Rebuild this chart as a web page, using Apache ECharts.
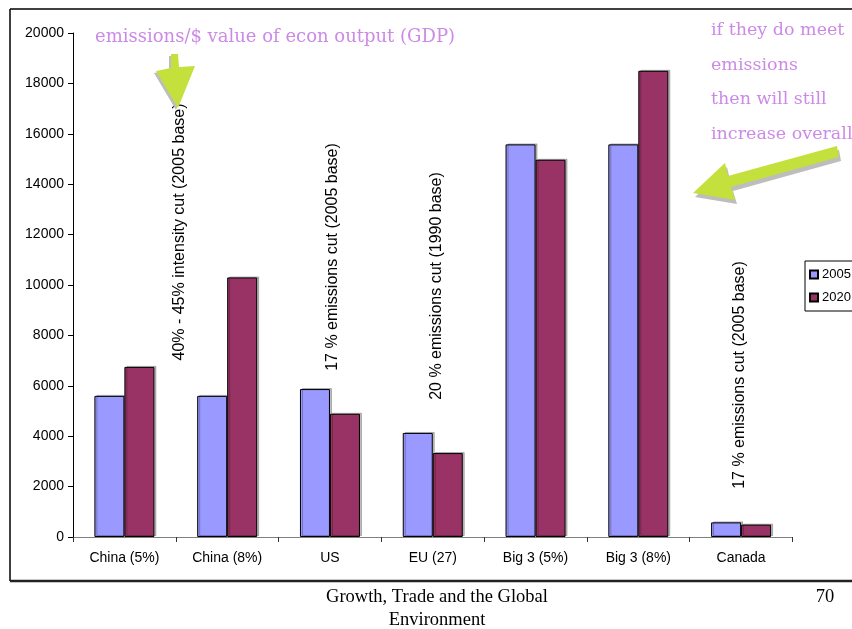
<!DOCTYPE html>
<html>
<head>
<meta charset="utf-8">
<script src="https://cdn.jsdelivr.net/npm/echarts@6/dist/echarts.min.js"></script>
<style>
  html, body { margin: 0; padding: 0; background: #fff; }
  #main { width: 852px; height: 629px; }
</style>
</head>
<body>
<div id="main"></div>
<script>
// data
var categories = ['China (5%)', 'China (8%)', 'US', 'EU (27)', 'Big 3 (5%)', 'Big 3 (8%)', 'Canada'];
var values2005 = [5600, 5600, 5870, 4130, 15580, 15580, 580];
var values2020 = [6750, 10300, 4890, 3330, 14970, 18500, 490];
var seriesNames = ['2005', '2020'];

var purple = '#CC8AE6';
var green = '#C3E03C';
var sans = 'Liberation Sans, Arial, sans-serif';
var serif = 'DejaVu Serif, serif';

var chart = echarts.init(document.getElementById('main'));

function vlabel(text, x, y) {
  return {
    type: 'text', x: x, y: y, rotation: Math.PI / 2,
    style: { text: text, font: '16px ' + sans, fill: '#000', align: 'center', verticalAlign: 'middle' }
  };
}

var arrow1 = [[171, 54], [178, 54], [179, 67], [195, 66], [178, 108], [156, 71], [171, 68]];
var arrow2 = [[693, 193], [725, 163], [728, 176], [837, 146], [839, 157], [731, 187], [735, 200]];
function shift(pts, dx, dy) { return pts.map(function (p) { return [p[0] + dx, p[1] + dy]; }); }

var barStyle = function (c) {
  return { color: c, borderColor: '#000', borderWidth: 1, shadowColor: 'rgba(0,0,0,0.25)', shadowOffsetX: 2, shadowOffsetY: -1, shadowBlur: 0 };
};

var option = {
  animation: false,
  grid: { left: 73, top: 33, right: 59.5, bottom: 92, containLabel: false },
  legend: {
    orient: 'vertical', left: 805, top: 261,
    itemWidth: 8, itemHeight: 8, itemGap: 10,
    padding: [7, 6, 7, 4],
    borderColor: '#000', borderWidth: 1, backgroundColor: '#fff',
    icon: 'rect',
    textStyle: { fontFamily: sans, fontSize: 13, color: '#000', padding: [0, 0, 0, -1] },
    data: seriesNames
  },
  xAxis: {
    type: 'category', data: categories,
    axisLine: { lineStyle: { color: '#808080', width: 1 } },
    axisTick: { show: true, length: 5, lineStyle: { color: '#333' } },
    axisLabel: { fontFamily: sans, fontSize: 14, color: '#000', margin: 14, interval: 0 }
  },
  yAxis: {
    type: 'value', min: 0, max: 20000, interval: 2000,
    axisLine: { show: true, lineStyle: { color: '#000', width: 1 } },
    axisTick: { show: true, length: 5, lineStyle: { color: '#000' } },
    axisLabel: { fontFamily: sans, fontSize: 14, color: '#000', margin: 9, formatter: function (v) { return String(v); } },
    splitLine: { show: false }
  },
  series: [
    { name: seriesNames[0], type: 'bar', data: values2005, barWidth: 30, barGap: '0%', itemStyle: barStyle('#9999FF') },
    { name: seriesNames[1], type: 'bar', data: values2020, barWidth: 30, barGap: '0%', itemStyle: barStyle('#993366') }
  ],
  graphic: [
    // slide frame
    { type: 'line', shape: { x1: 10, y1: 9, x2: 852, y2: 9 }, style: { stroke: '#000', lineWidth: 1.5 } },
    { type: 'line', shape: { x1: 10, y1: 9, x2: 10, y2: 581 }, style: { stroke: '#000', lineWidth: 1.5 } },
    { type: 'line', shape: { x1: 10, y1: 581, x2: 852, y2: 581 }, style: { stroke: '#222', lineWidth: 2.5 } },
    // footer
    { type: 'text', x: 437, y: 597, style: { text: 'Growth, Trade and the Global', font: '18.5px Liberation Serif, serif', fill: '#000', align: 'center', verticalAlign: 'middle' } },
    { type: 'text', x: 437, y: 620, style: { text: 'Environment', font: '18.5px Liberation Serif, serif', fill: '#000', align: 'center', verticalAlign: 'middle' } },
    { type: 'text', x: 825, y: 597, style: { text: '70', font: '18.5px Liberation Serif, serif', fill: '#000', align: 'center', verticalAlign: 'middle' } },
    // rotated target notes
    vlabel('40% - 45% intensity cut (2005 base)', 180, 232),
    vlabel('17 % emissions cut (2005 base)', 333, 257),
    vlabel('20 % emissions cut (1990 base)', 437, 286),
    vlabel('17 % emissions cut (2005 base)', 740, 375),
    // purple notes
    { type: 'text', x: 95, y: 37, style: { text: 'emissions/$ value of econ output (GDP)', font: '18px ' + serif, fill: purple, align: 'left', verticalAlign: 'middle' } },
    { type: 'text', x: 711, y: 30, style: { text: 'if they do meet', font: '17.5px ' + serif, fill: purple, verticalAlign: 'middle' } },
    { type: 'text', x: 711, y: 65, style: { text: 'emissions', font: '17.5px ' + serif, fill: purple, verticalAlign: 'middle' } },
    { type: 'text', x: 711, y: 99, style: { text: 'then will still', font: '17.5px ' + serif, fill: purple, verticalAlign: 'middle' } },
    { type: 'text', x: 711, y: 134, style: { text: 'increase overall', font: '17.5px ' + serif, fill: purple, verticalAlign: 'middle' } },
    // green arrows with shadows
    { type: 'polygon', shape: { points: shift(arrow1, -2, 2) }, style: { fill: '#bdbdbd' } },
    { type: 'polygon', shape: { points: arrow1 }, style: { fill: green } },
    { type: 'polygon', shape: { points: shift(arrow2, 2, 4) }, style: { fill: '#bdbdbd' } },
    { type: 'polygon', shape: { points: arrow2 }, style: { fill: green } }
  ]
};

chart.setOption(option);
</script>
</body>
</html>
